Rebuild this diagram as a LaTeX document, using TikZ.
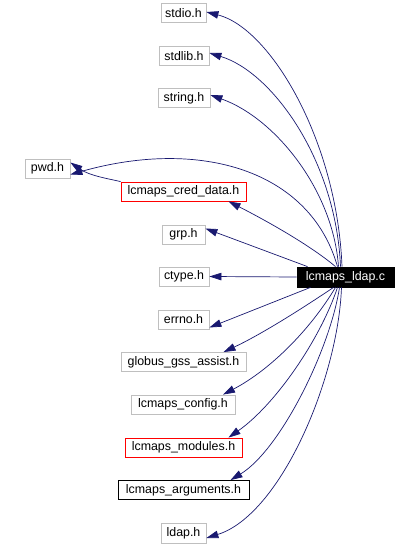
\documentclass[tikz,border=0pt]{standalone}
\usepackage{fontspec}
\setmainfont{Liberation Sans}
\usetikzlibrary{arrows.meta}
\definecolor{edgeblue}{RGB}{25,25,112}
\definecolor{boxgrey}{RGB}{191,191,191}
\begin{document}
\begin{tikzpicture}[x=1pt,y=-1pt,
  hdr/.style={draw=boxgrey,line width=0.8pt,fill=white,font=\fontsize{12.4}{14}\selectfont,inner sep=0pt,minimum height=19pt,anchor=center},
  redbox/.style={hdr,draw=red},
  blackbox/.style={hdr,draw=black},
  mainbox/.style={hdr,draw=black,fill=black,text=white},
  edge/.style={draw=edgeblue,line width=0.7pt,-{Triangle[length=12pt,width=7.5pt]}}]
\useasboundingbox (0,0) rectangle (417,545);
\node[hdr,minimum width=45pt] (stdio) at (183.5,13) {stdio.h};
\node[hdr,minimum width=50pt] (stdlib) at (184,56) {stdlib.h};
\node[hdr,minimum width=52pt] (string) at (184,98) {string.h};
\node[hdr,minimum width=45pt] (pwd) at (47.5,168.5) {pwd.h};
\node[redbox,minimum width=125pt] (cred) at (183.5,191.5) {lcmaps\_cred\_data.h};
\node[hdr,minimum width=43pt] (grp) at (183.5,234.5) {grp.h};
\node[hdr,minimum width=50pt] (ctype) at (184,276.5) {ctype.h};
\node[mainbox,minimum width=97pt,minimum height=20pt] (ldapc) at (345.5,277) {lcmaps\_ldap.c};
\node[hdr,minimum width=51pt] (errno) at (183.5,319.5) {errno.h};
\node[hdr,minimum width=125pt] (globus) at (183.5,362) {globus\_gss\_assist.h};
\node[hdr,minimum width=104pt] (config) at (183,404.5) {lcmaps\_config.h};
\node[redbox,minimum width=117pt] (modules) at (183.5,447.5) {lcmaps\_modules.h};
\node[blackbox,minimum width=131pt] (args) at (183.5,490) {lcmaps\_arguments.h};
\node[hdr,minimum width=45pt,minimum height=20pt] (ldaph) at (183.5,533) {ldap.h};
% edges
\draw[edge] ([xshift=-3.5pt]ldapc.north) .. controls (337,140) and (270,28) .. ([yshift=1pt]stdio.east);
\draw[edge] ([xshift=-5pt]ldapc.north) .. controls (336,160) and (272,72) .. ([yshift=3pt]stdlib.east);
\draw[edge] ([xshift=-7pt]ldapc.north) .. controls (333,190) and (275,118) .. ([yshift=3pt]string.east);
\draw[edge] ([xshift=-8pt]ldapc.north) .. controls (310,170) and (200,138) .. ([yshift=-6pt]pwd.east);
\draw[edge] ([xshift=-10pt]ldapc.north) .. controls (310,245) and (265,220) .. ([xshift=45pt]cred.south);
\draw[edge] (cred.north west) .. controls (110,179) and (90,176) .. ([yshift=6pt]pwd.east);
\draw[edge] ([xshift=-38pt]ldapc.north) -- ([yshift=6pt]grp.east);
\draw[edge] (ldapc.west) -- (ctype.east);
\draw[edge] ([xshift=-35pt]ldapc.south) -- ([yshift=-8pt]errno.east);
\draw[edge] ([xshift=-12pt]ldapc.south) .. controls (300,310) and (260,335) .. ([xshift=40pt]globus.north);
\draw[edge] ([xshift=-10pt]ldapc.south) .. controls (310,330) and (270,370) .. ([xshift=40pt]config.north);
\draw[edge] ([xshift=-8pt]ldapc.south) .. controls (320,340) and (275,405) .. ([xshift=45pt]modules.north);
\draw[edge] ([xshift=-6pt]ldapc.south) .. controls (330,350) and (280,450) .. ([xshift=47pt]args.north);
\draw[edge] ([xshift=-4pt]ldapc.south) .. controls (338,380) and (280,515) .. ([yshift=-5pt]ldaph.east);
\end{tikzpicture}
\end{document}
